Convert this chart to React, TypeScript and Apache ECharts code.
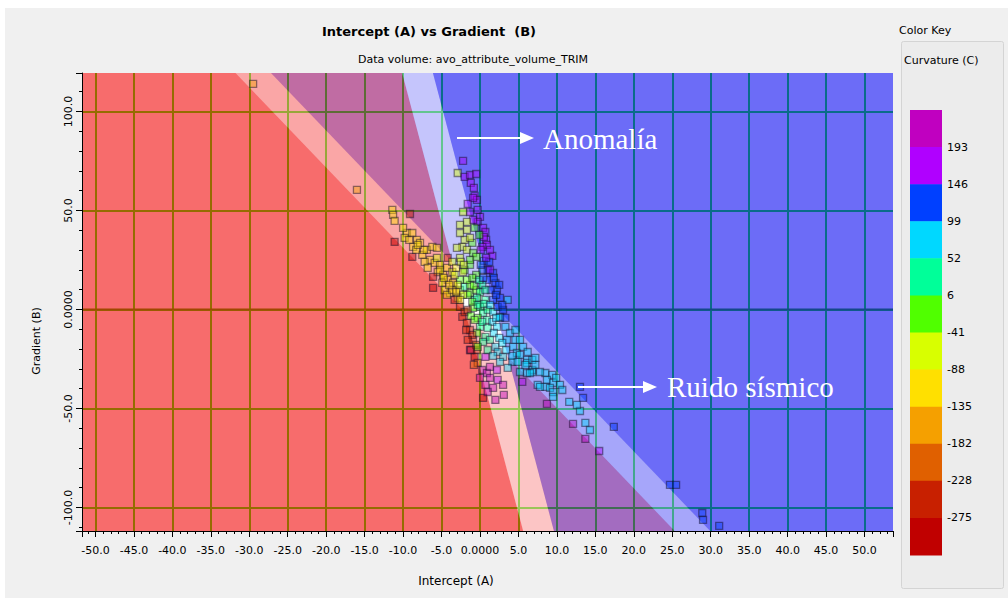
import React, { useEffect, useRef } from "react";
import * as echarts from "echarts";

// Axis extents (Intercept A on x, Gradient B on y)
const X_MIN = -51.75;
const X_MAX = 53.7;
const Y_MIN = -111.9;
const Y_MAX = 119.4;

// Background trend lines through the origin: B = slope * A, with pale band half-widths (A units)
const trendSlopes = [-4.05, -14.7];
const trendBandHalfWidths = [2.3, 2.0];

// Colour key (top to bottom) and the break values between the blocks
const keyColors = [
  "#C000C0", "#B000FF", "#0040FF", "#00D8FF", "#00FF99", "#50FF00",
  "#D8FF00", "#FFE000", "#F5A000", "#E06000", "#C82000", "#C00000",
];
const keyBreaks = [193, 146, 99, 52, 6, -41, -88, -135, -182, -228, -275];

// Samples: intercept (A), gradient (B), curvature (C)
const pointA = [
  -29.5, -16.0, -11.4, -11.3, -11.1, -9.1, -11.1, -9.5, -8.8, -8.2, -8.7, -8.8, -7.5, -6.9, -6.2, -5.6, -6.5, -5.9, -5.2, -4.3,
  -4.2, -5.5, -4.8, -6.1, -6.1, -4.2, -3.5, -3.9, -2.9, -3.3, -7.8, -7.2, -4.9, -4.6, -5.6, -8.3, -9.8, -3.6, -2.6, -4.3,
  -2.2, -2.9, -2.0, -1.3, -0.5, -1.2, -0.7, -0.4, -0.9, -1.6, -1.3, -2.2, 0.0, -0.3, -0.9, 0.4, -1.7, -2.6, 0.8, 0.9,
  0.3, 1.6, -1.7, -2.0, -2.3, -1.0, -1.7, -0.9, -2.6, -3.0, -2.6, 0.5, 1.0, 1.7, 0.9, 2.0, 2.2, 3.6, 1.3, 0.7,
  1.2, 0.3, 1.4, 2.6, -0.3, -0.8, -2.6, -2.0, -1.3, -0.7, 0.0, -0.9, 0.4, 0.9, 1.6, 2.2, 0.0, -0.4, 0.7, 1.3,
  2.0, 2.3, 3.0, 3.5, 4.3, 4.8, 5.6, 6.1, 6.8, -1.6, -0.5, 0.7, -1.3, 1.0, -0.3, 1.7, 2.6, -2.0, -1.3, -0.5,
  0.3, -3.3, -2.6, -2.3, -1.7, -1.3, -0.9, -0.4, -0.7, -0.3, 0.3, 0.9, 1.3, 1.7, 0.4, 2.0, 3.1, -1.3, 0.7, 1.3,
  2.2, -2.0, -1.0, -0.5, 1.7, 2.3, 2.6, 3.3, 3.9, 3.0, 6.1, 6.8, 6.1, 8.5, 9.4, 8.7, 9.5, 10.4, 7.5, 8.5,
  9.1, 9.5, 10.7, 13.0, 13.4, 11.6, 13.0, 8.7, 5.5, 5.2, 6.8, 5.9, 6.5, 7.8, 9.5, 12.6, 12.1, 13.7, 14.3, 13.7,
  15.5, 17.4, 24.7, 25.5, 28.9, 29.0, 31.1, 4.6, 5.2, 7.2, 4.2,
  -3.6, -3.1, -2.5, -2.2, -2.9, -3.6, -2.2, -1.7, -1.0, -0.8, -0.1, 0.0, 0.7, -0.4, -1.0, -0.3, 0.5, 1.3, -1.6, -1.2,
  -0.7, 0.3, 1.0, 1.8, 2.5, 0.4, -0.3, 1.0, 1.7, 2.6, 3.6, 4.2, 4.9, 3.4, 2.9, 2.1, 3.3, 2.9, 2.1, 1.8,
  1.3, 2.5, 0.8, 0.1, 0.5, -0.1, -0.7, -1.3, -0.5, -1.3, -2.1, 0.1, 0.4, -1.8, -1.6, -1.2, -0.8, 0.0, 0.7, 1.0,
  2.3, 3.0, -2.6, -3.1, -4.0, -4.7, -5.2, -6.8, -7.3, -8.1, -10.0, -9.2, 4.6, 5.2, 6.2, 7.2, 7.8, 9.9,
];
const pointB = [
  113.9, 60.4, 50.3, 47.7, 44.7, 48.2, 34.1, 38.6, 38.6, 35.1, 31.6, 26.5, 27.5, 30.1, 31.6, 31.1, 25.0, 23.5, 22.5, 21.0,
  26.0, 18.9, 17.4, 16.4, 10.9, 14.9, 13.4, 8.3, 5.8, 4.8, 33.6, 24.0, 13.4, 9.8, 26.0, 30.1, 36.1, 18.9, 9.8, 7.3,
  75.0, 68.9, 66.9, 67.9, 68.4, 63.9, 57.3, 55.3, 56.3, 53.3, 49.2, 49.2, 46.7, 44.2, 45.2, 41.2, 44.2, 42.7, 35.1, 32.6,
  31.6, 27.0, 40.2, 35.1, 31.6, 33.6, 30.1, 28.5, 26.0, 31.1, 38.6, 24.5, 19.9, 18.4, 14.9, 13.4, 9.8, 4.8, 30.1, 39.1,
  24.0, 19.9, 9.8, 5.8, 50.3, 61.4, 14.9, 11.4, 8.3, 4.8, 1.3, 0.8, -1.8, -5.3, -6.3, -8.8, -8.8, -11.9, -13.9, -15.4,
  -18.9, -21.5, -24.0, -15.4, -18.9, -22.0, -18.9, -25.5, -30.6, 7.3, 9.8, 4.8, 12.4, -0.3, -4.3, -1.3, -4.3, 19.9, 22.5, 17.4,
  12.4, 17.4, 1.3, -3.8, -6.8, -10.4, -15.4, -20.5, -24.0, -27.0, -30.6, -32.1, -34.6, -39.6, -44.7, -45.7, -43.2, -20.5, -24.0, -29.0,
  -30.6, -1.3, -12.9, -17.9, 4.8, 1.3, -3.8, -8.8, -11.9, -0.3, -27.0, -31.6, -32.1, -32.1, -33.1, -35.6, -37.1, -38.1, -38.1, -39.1,
  -39.6, -41.7, -40.7, -39.1, -44.7, -46.7, -51.3, -47.7, -36.6, -31.6, -25.5, -28.0, -32.1, -39.1, -44.2, -48.2, -57.8, -57.3, -60.9, -65.4,
  -71.5, -59.3, -88.6, -88.6, -102.8, -106.3, -109.3, -15.4, -23.0, -28.0, -26.5,
  24.0, 21.0, 24.0, 18.9, 12.4, 9.8, 7.3, 14.9, 15.9, 11.9, 14.9, 8.8, 9.8, 5.8, 3.8, 2.3, 2.8, 2.3, -0.3, -3.3,
  -5.3, -6.3, -9.3, -11.9, -14.4, -16.4, -18.9, -20.5, -23.5, -26.5, -29.5, -23.5, -26.5, -20.5, -16.9, -4.3, -4.3, 2.3, 7.3, 15.9,
  19.9, 12.4, 26.0, 30.1, 36.6, 37.6, 41.2, 36.1, 26.5, 25.0, 22.5, 22.5, 15.9, -10.4, -15.4, -20.5, -28.0, -34.6, -38.1, -41.7,
  -35.6, -38.1, 4.8, 8.8, 12.4, 15.9, 19.9, 21.0, 30.1, 32.6, 41.2, 35.1, -10.4, -15.4, -21.5, -24.5, -31.6, -34.6,
];
const pointC = [
  -160, -150, -105, -112, -98, -255, -285, -120, -95, -110, -100, -290, -115, -92, -105, -118, -100, -125, -108, -95,
  -240, -130, -112, -280, -285, -100, -90, -115, -80, -270, -102, -98, -120, -105, -85, -128, -100, -70, -65, -95,
  175, -50, 180, 165, 190, 170, 160, 185, 150, 175, 165, -55, 180, 160, 155, 170, -70, -60, 160, 150,
  175, 165, -50, -45, -65, -30, -48, -20, -75, -58, -52, 130, 140, 120, 110, 135, 115, 80, 185, 150,
  145, 125, 105, 100, 170, 180, -20, 10, -5, 20, 15, -25, 30, 40, 55, 60, 10, -10, 25, 45,
  65, 70, 75, 80, 85, 78, 90, 72, 85, -30, 0, 35, -35, 45, 5, 58, 70, -40, -35, -10,
  15, -50, -260, -250, -240, -265, -250, -230, -280, -210, 230, 215, 225, 210, -295, 235, 220, 200, 160, 195,
  150, -275, -245, -200, 110, 100, 95, 88, 82, 105, 70, 80, 74, 68, 75, 82, 70, 78, 65, 72,
  80, 76, 71, 125, 120, 70, 74, 200, 190, 85, 80, 76, 70, 68, 72, 78, 195, 70, 76, 200,
  185, 125, 118, 122, 120, 115, 125, 88, 80, 74, 72,
  -80, -90, -62, -55, -75, -100, -45, -25, -15, 5, 20, 25, 40, 10, -20, 15, 35, 60, -265, -10,
  5, 30, 50, 65, 75, 20, -30, 40, 60, 70, 85, 80, 75, 78, 82, 88, 100, 115, 125, 140,
  150, 120, 170, 160, 175, -35, -40, -45, -20, -30, -50, 130, 100, -250, -240, -260, -220, 230, 210, 225,
  180, 200, -100, -110, -95, -115, -100, -120, -105, -95, -110, -90, 90, 85, 80, 75, 70, 74,
];

type P = [number, number];

function clipHalfPlane(poly: P[], a: number, b: number, c: number): P[] {
  const out: P[] = [];
  for (let i = 0; i < poly.length; i++) {
    const p = poly[i];
    const q = poly[(i + 1) % poly.length];
    const fp = a * p[0] + b * p[1] + c;
    const fq = a * q[0] + b * q[1] + c;
    if (fp >= 0) out.push(p);
    if ((fp >= 0) !== (fq >= 0)) {
      const t = fp / (fp - fq);
      out.push([p[0] + t * (q[0] - p[0]), p[1] + t * (q[1] - p[1])]);
    }
  }
  return out;
}

function withAlpha(hex: string, alpha: number): string {
  const n = parseInt(hex.slice(1), 16);
  return `rgba(${(n >> 16) & 255},${(n >> 8) & 255},${n & 255},${alpha})`;
}

const FONT = "DejaVu Sans";

export default function App() {
  const ref = useRef<HTMLDivElement>(null);

  useEffect(() => {
    if (!ref.current) return;
    const chart = echarts.init(ref.current, undefined, { renderer: "svg" });

    const pieces: any[] = keyColors.map((hex, i) => {
      const color = withAlpha(hex, 0.55);
      if (i === 0) return { gte: keyBreaks[0], color };
      if (i === keyColors.length - 1) return { lt: keyBreaks[keyBreaks.length - 1], color };
      return { gte: keyBreaks[i], lt: keyBreaks[i - 1], color };
    });

    const fmt = (v: number) => (Math.abs(v) < 1e-9 ? "0.0000" : v.toFixed(1));

    // Colour key graphics
    const keyX = 910, keyTop = 110, keyW = 32, keyH = 445;
    const blockH = keyH / keyColors.length;
    const keyEls: any[] = [];
    keyColors.forEach((c, i) => {
      keyEls.push({
        type: "rect", z: 10,
        shape: { x: keyX, y: keyTop + i * blockH, width: keyW, height: blockH + 0.5 },
        style: { fill: c },
      });
    });
    keyBreaks.forEach((v, i) => {
      keyEls.push({
        type: "text", z: 10, x: keyX + 37, y: keyTop + (i + 1) * blockH,
        style: { text: String(v), fill: "#000", font: `11px '${FONT}'`, textAlign: "left", textVerticalAlign: "middle" },
      });
    });

    const gridSplit = { show: true, showMinLine: false, showMaxLine: false, lineStyle: { color: "rgb(25,255,0)", width: 2 } };

    const option: any = {
      animation: false,
      backgroundColor: "#f0f0f0",
      grid: { left: 82, top: 73, width: 811, height: 458, show: true, backgroundColor: "#ffffff", borderWidth: 0 },
      xAxis: [
        {
          type: "value", min: X_MIN, max: X_MAX, splitNumber: 21, position: "bottom", z: 0,
          axisLine: { show: false, onZero: false }, axisTick: { show: false }, axisLabel: { show: false },
          splitLine: gridSplit,
        },
        {
          type: "value", min: X_MIN, max: X_MAX, splitNumber: 21, position: "bottom", z: 5,
          axisLine: { show: true, onZero: false, lineStyle: { color: "#000", width: 1 } },
          axisTick: { show: true, length: 6, lineStyle: { color: "#000" } },
          minorTick: { show: true, splitNumber: 5, length: 3, lineStyle: { color: "#000" } },
          axisLabel: { formatter: fmt, margin: 14, color: "#000", fontSize: 11, fontFamily: FONT, showMinLabel: false, showMaxLabel: false },
          splitLine: { show: false },
        },
      ],
      yAxis: [
        {
          type: "value", min: Y_MIN, max: Y_MAX, splitNumber: 5, position: "left", z: 0,
          axisLine: { show: false, onZero: false }, axisTick: { show: false }, axisLabel: { show: false },
          splitLine: gridSplit,
        },
        {
          type: "value", min: Y_MIN, max: Y_MAX, splitNumber: 5, position: "left", z: 5,
          axisLine: { show: true, onZero: false, lineStyle: { color: "#000", width: 1 } },
          axisTick: { show: true, length: 6, lineStyle: { color: "#000" } },
          minorTick: { show: true, splitNumber: 5, length: 3, lineStyle: { color: "#000" } },
          axisLabel: { formatter: fmt, rotate: 90, margin: 8, color: "#000", fontSize: 11, fontFamily: FONT, showMinLabel: false, showMaxLabel: false },
          splitLine: { show: false },
        },
      ],
      visualMap: { type: "piecewise", show: false, dimension: 2, seriesIndex: 1, pieces },
      series: [
        {
          type: "custom",
          xAxisIndex: 0, yAxisIndex: 0,
          silent: true,
          z: 2,
          data: [[0, 0]],
          renderItem: (_params: any, api: any) => {
            const rect: P[] = [[X_MIN, Y_MIN], [X_MAX, Y_MIN], [X_MAX, Y_MAX], [X_MIN, Y_MAX]];
            const children: any[] = [];
            const za = api.coord([X_MIN, 0]);
            const zb = api.coord([X_MAX, 0]);
            children.push({
              type: "line",
              shape: { x1: za[0], y1: za[1], x2: zb[0], y2: zb[1] },
              style: { stroke: "rgb(50,170,0)", lineWidth: 2 },
            });
            trendSlopes.forEach((s, i) => {
              const w = trendBandHalfWidths[i];
              const regions = [
                { cuts: [[-1, 1 / s, -w]], fill: "rgba(241,0,0,0.35)" },
                { cuts: [[1, -1 / s, w], [-1, 1 / s, w]], fill: "rgba(255,255,255,0.35)" },
                { cuts: [[1, -1 / s, -w]], fill: "rgba(0,0,241,0.35)" },
              ];
              regions.forEach((r) => {
                let poly = rect;
                r.cuts.forEach(([a, b, c]) => { poly = clipHalfPlane(poly, a, b, c); });
                if (poly.length >= 3) {
                  children.push({
                    type: "polygon",
                    shape: { points: poly.map((p) => api.coord(p)) },
                    style: { fill: r.fill },
                  });
                }
              });
            });
            return { type: "group", children };
          },
        },
        {
          type: "scatter",
          xAxisIndex: 0, yAxisIndex: 0,
          z: 3,
          symbol: "rect",
          symbolSize: 7,
          itemStyle: { borderColor: "rgba(20,15,40,0.6)", borderWidth: 1.3 },
          data: pointA.map((a, i) => [a, pointB[i], pointC[i]]),
        },
      ],
      graphic: {
        elements: [
          { type: "rect", z: 1, shape: { x: 0, y: 0, width: 1008, height: 8 }, style: { fill: "#ffffff" } },
          { type: "rect", z: 1, shape: { x: 0, y: 0, width: 5, height: 598 }, style: { fill: "#ffffff" } },
          {
            type: "text", z: 10, x: 429, y: 31,
            style: { text: "Intercept (A) vs Gradient  (B)", fill: "#000", font: `bold 13px '${FONT}'`, textAlign: "center", textVerticalAlign: "middle" },
          },
          {
            type: "text", z: 10, x: 473, y: 59,
            style: { text: "Data volume: avo_attribute_volume_TRIM", fill: "#000", font: `11px '${FONT}'`, textAlign: "center", textVerticalAlign: "middle" },
          },
          {
            type: "text", z: 10, x: 456, y: 581,
            style: { text: "Intercept (A)", fill: "#000", font: `12px '${FONT}'`, textAlign: "center", textVerticalAlign: "middle" },
          },
          {
            type: "text", z: 10, x: 36, y: 341, rotation: Math.PI / 2,
            style: { text: "Gradient (B)", fill: "#000", font: `11px '${FONT}'`, textAlign: "center", textVerticalAlign: "middle" },
          },
          {
            type: "rect", z: 5, shape: { x: 901.5, y: 41.5, width: 102, height: 547, r: 2 },
            style: { fill: "#ececec", stroke: "#d4d4d4", lineWidth: 1 },
          },
          {
            type: "text", z: 10, x: 899, y: 30,
            style: { text: "Color Key", fill: "#000", font: `11px '${FONT}'`, textAlign: "left", textVerticalAlign: "middle" },
          },
          {
            type: "text", z: 10, x: 904, y: 60,
            style: { text: "Curvature (C)", fill: "#000", font: `11px '${FONT}'`, textAlign: "left", textVerticalAlign: "middle" },
          },
          ...keyEls,
          // Annotations
          { type: "line", z: 20, shape: { x1: 457, y1: 138, x2: 522, y2: 138 }, style: { stroke: "#fff", lineWidth: 2 } },
          { type: "polygon", z: 20, shape: { points: [[520, 132], [534, 138], [520, 144]] }, style: { fill: "#fff" } },
          {
            type: "text", z: 20, x: 543, y: 139,
            style: { text: "Anomalía", fill: "#fff", font: `29px 'Liberation Serif'`, textAlign: "left", textVerticalAlign: "middle" },
          },
          { type: "line", z: 20, shape: { x1: 578, y1: 387, x2: 645, y2: 387 }, style: { stroke: "#fff", lineWidth: 2 } },
          { type: "polygon", z: 20, shape: { points: [[643, 381], [657, 387], [643, 393]] }, style: { fill: "#fff" } },
          {
            type: "text", z: 20, x: 667, y: 387,
            style: { text: "Ruido sísmico", fill: "#fff", font: `29px 'Liberation Serif'`, textAlign: "left", textVerticalAlign: "middle" },
          },
        ],
      },
    };

    chart.setOption(option);
    return () => chart.dispose();
  }, []);

  return (
    <div
      ref={ref}
      style={{ position: "fixed", left: 0, top: 0, width: 1008, height: 598 }}
    />
  );
}
